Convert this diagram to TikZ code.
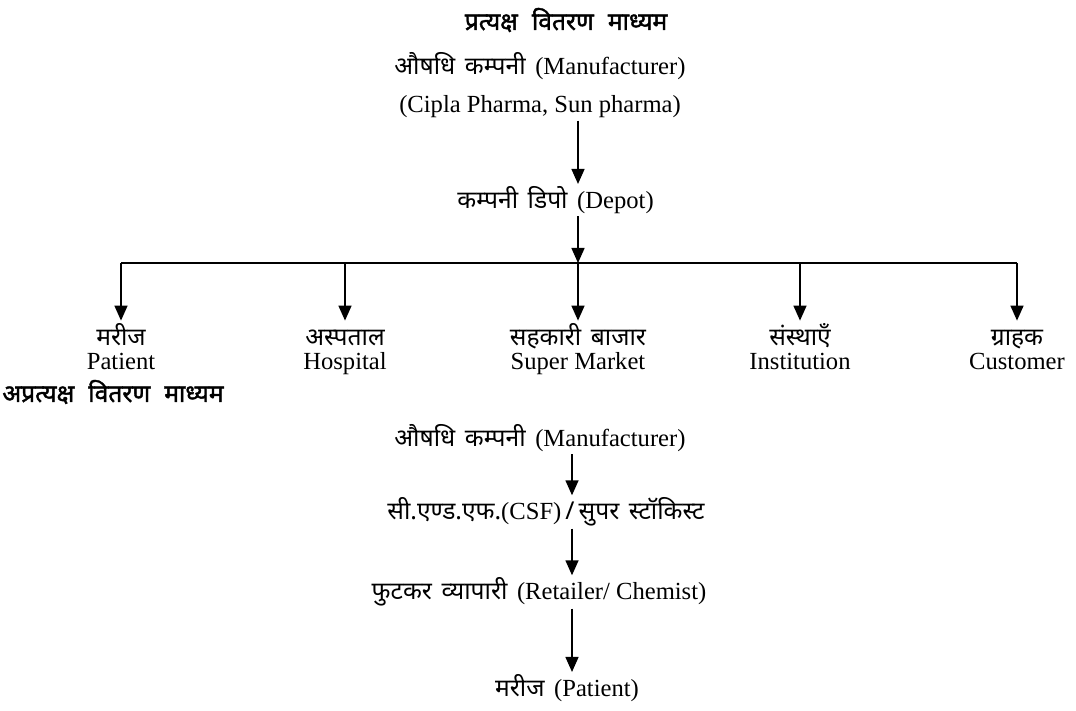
\documentclass[tikz,border=0pt]{standalone}
\usepackage{fontspec}
\setmainfont{Liberation Serif}
\newfontfamily\hindi[Script=Devanagari, WordSpace=1.5]{Noto Sans}
\newfontfamily\hindibold[Script=Devanagari, WordSpace=2.2, FakeBold=1.6]{Noto Sans}
\usetikzlibrary{arrows.meta}

\begin{document}
\begin{tikzpicture}[x=0.5pt,y=-0.5pt,
    txt/.style={inner sep=1pt, font=\fontsize{12.3}{13}\selectfont},
    hd/.style={inner sep=1pt, font=\fontsize{12.3}{13}\selectfont\hindibold},
    hlbl/.style={inner sep=1pt, text height=9pt, text depth=2pt, font=\fontsize{12.3}{13}\selectfont\hindi},
    elbl/.style={txt, text height=8.5pt, text depth=2.7pt},
    arr/.style={line width=0.75pt, -{Triangle[width=6.5pt,length=7.5pt]}}]
  \useasboundingbox (0,0) rectangle (1076,711);

  % Direct distribution channel
  \node[hd] (title1) at (566,20) {प्रत्यक्ष वितरण माध्यम};
  \node[txt] (mfr1) at (540,66) {{\hindi औषधि कम्पनी }(Manufacturer)};
  \node[txt] (cipla) at (540,107) {(Cipla Pharma, Sun pharma)};
  \node[txt, anchor=west] (depot) at (455,200) {{\hindi कम्पनी डिपो }(Depot)};
  \coordinate (axis) at (578,0);
  \coordinate (bar) at (578,263);
  \draw[arr] (cipla.south -| axis) -- (depot.north -| axis);
  \draw[arr] (depot.south -| axis) -- (bar);

  % Receivers of the depot
  \node[hlbl] (pat) at (121,338) {मरीज};
  \node[hlbl] (hosp) at (345,338) {अस्पताल};
  \node[hlbl] (mkt) at (578,338) {सहकारी बाजार};
  \node[hlbl] (inst) at (800,338) {संस्थाएँ};
  \node[hlbl] (cust) at (1017,338) {ग्राहक};
  \node[elbl] (patE) at (121,364) {Patient};
  \node[elbl] (hospE) at (345,364) {Hospital};
  \node[elbl] (mktE) at (578,364) {Super Market};
  \node[elbl] (instE) at (800,364) {Institution};
  \node[elbl] (custE) at (1017,364) {Customer};
  \draw[line width=0.75pt] (pat |- bar) -- (cust |- bar);
  \foreach \n in {pat,hosp,mkt,inst,cust}
    \draw[arr] (\n |- bar) -- ([yshift=2pt]\n.north);

  % Indirect distribution channel
  \node[hd, anchor=west] (title2) at (0,392) {अप्रत्यक्ष वितरण माध्यम};
  \node[txt] (mfr2) at (540,438) {{\hindi औषधि कम्पनी }(Manufacturer)};
  \node[txt] (csf) at (546,512) {{\hindi सी.एण्ड.एफ.}(CSF){\hindi\,/\,सुपर स्टॉकिस्ट}};
  \node[txt] (retail) at (539,592) {{\hindi फुटकर व्यापारी }(Retailer/ Chemist)};
  \node[txt] (pat2) at (567,688) {{\hindi मरीज }(Patient)};
  \coordinate (axis2) at (572,0);
  \draw[arr] (mfr2.south -| axis2) -- (csf.north -| axis2);
  \draw[arr] (csf.south -| axis2) -- (retail.north -| axis2);
  \draw[arr] (retail.south -| axis2) -- (pat2.north -| axis2);
\end{tikzpicture}
\end{document}
